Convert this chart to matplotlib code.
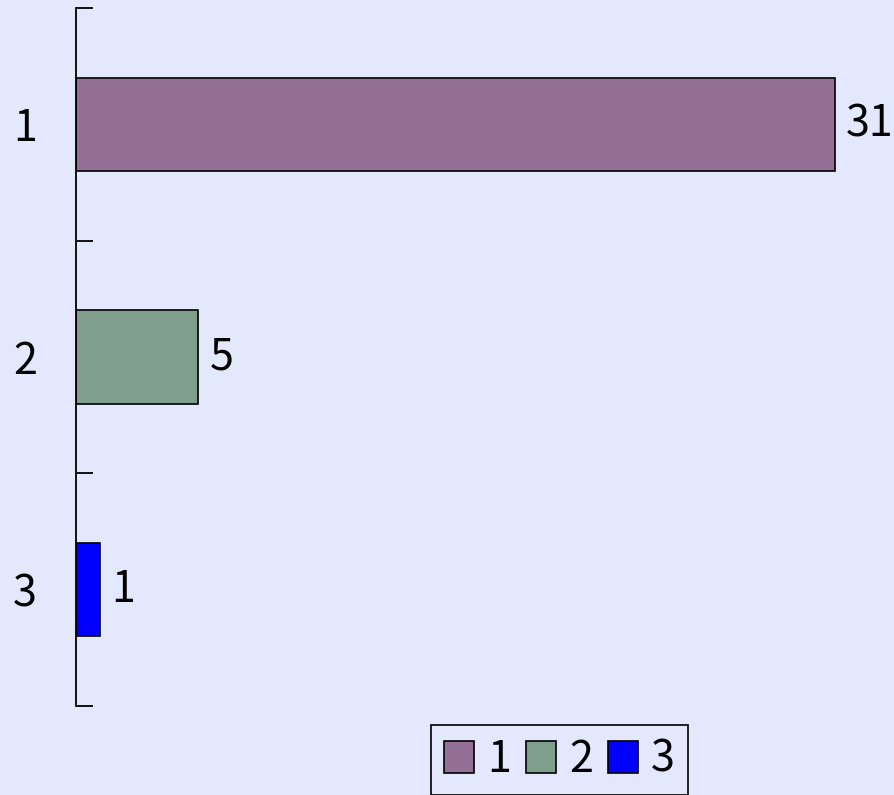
import matplotlib.pyplot as plt
import matplotlib.patches as mpatches

plt.rcParams['font.family'] = ['Noto Sans CJK JP', 'DejaVu Sans']

categories = ['1', '2', '3']
values = [31, 5, 1]
colors = ['#947096', '#7f9e8c', '#0000ff']
bg = '#e4e8fc'
fs = 31

W, H = 894, 795
fig = plt.figure(figsize=(W / 100, H / 100), dpi=100, facecolor=bg)
# axes placed in pixel terms: y axis at x=76, top 8, bottom 706
ax_right = 880
ax = fig.add_axes([76 / W, (H - 706) / H, (ax_right - 76) / W, 698 / H])
ax.set_facecolor(bg)

pos = list(range(len(categories)))
bars = ax.barh(pos, values, height=0.4, color=colors, edgecolor='black', linewidth=1.2)

px_per_unit = 759 / 31
ax.set_xlim(0, (ax_right - 76) / px_per_unit)
ax.set_ylim(len(categories) - 0.5, -0.5)

for b, v in zip(bars, values):
    ax.text(v + 11 / px_per_unit, b.get_y() + b.get_height() / 2, str(v),
            va='center', ha='left', fontsize=fs)

for s in ['top', 'right', 'bottom']:
    ax.spines[s].set_visible(False)
ax.spines['left'].set_linewidth(1.3)
ax.set_xticks([])
ax.set_yticks([p - 0.5 for p in pos] + [len(pos) - 0.5])
ax.set_yticklabels([])
ax.tick_params(axis='y', which='major', direction='in', length=12, width=1.3)
ax.set_yticks(pos, minor=True)
ax.set_yticklabels(categories, minor=True, fontsize=fs)
ax.tick_params(axis='y', which='minor', length=0, pad=28)

handles = [mpatches.Patch(facecolor=c, edgecolor='black', linewidth=1.2, label=l)
           for c, l in zip(colors, categories)]
leg = fig.legend(handles=handles, loc='upper left', bbox_to_anchor=(431 / W, 1 - 725 / H),
                 ncol=3, fontsize=fs, frameon=True, fancybox=False, facecolor=bg,
                 edgecolor='black', framealpha=1, handlelength=0.7, handleheight=0.77,
                 handletextpad=0.3, columnspacing=0.35, borderpad=0.3, borderaxespad=0)
leg.get_frame().set_linewidth(1.2)

fig.savefig('out.png', dpi=100, facecolor=bg)
